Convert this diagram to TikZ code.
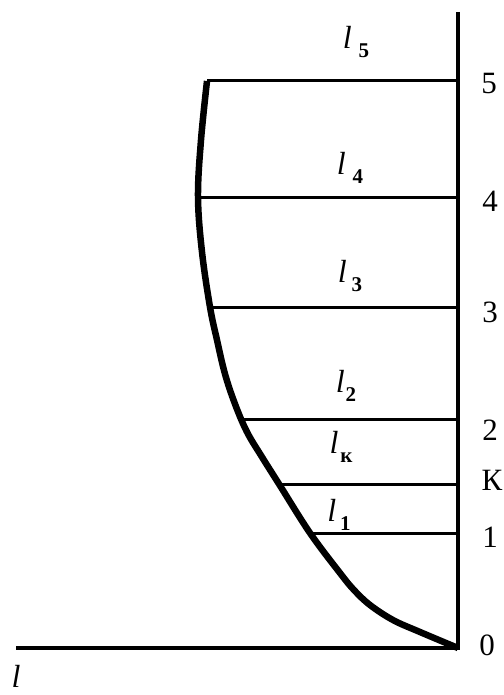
\documentclass[tikz,border=0pt]{standalone}
\usepackage{fontspec}
\setmainfont{Liberation Serif}
\begin{document}
\begin{tikzpicture}[x=1pt,y=-1pt,
  axis/.style={line width=4.5pt},
  level/.style={line width=3pt},
  curve/.style={line width=6.5pt,line join=round},
  num/.style={font=\fontsize{31}{31}\selectfont,inner sep=0pt},
  lab/.style={font=\fontsize{32}{32}\selectfont,inner sep=0pt}]
\useasboundingbox (0,0) rectangle (503,695);
\newcommand{\lsub}[2]{\textit{l}\kern#1pt\raisebox{-0.3em}{\fontsize{21}{21}\selectfont\bfseries #2}}
% axes
\coordinate (top) at (458,12);
\coordinate (origin) at (458,648);
\coordinate (left) at (16,648);
\draw[axis] (top) -- (origin) -- (left);
% level lines
\coordinate (a5) at (207,81);  \coordinate (b5) at (458,81);
\coordinate (a4) at (197,197); \coordinate (b4) at (458,197);
\coordinate (a3) at (212,307); \coordinate (b3) at (458,307);
\coordinate (a2) at (243,419); \coordinate (b2) at (458,419);
\coordinate (aK) at (282,484); \coordinate (bK) at (458,484);
\coordinate (a1) at (313,533); \coordinate (b1) at (458,533);
\foreach \i in {5,4,3,2,K,1} \draw[level] (a\i) -- (b\i);
% curve
\draw[curve] plot[smooth,tension=0.6] coordinates {(207,81) (201,140) (198,197) (202,252) (210,307) (217,340) (225,374) (235,404) (247,432) (262,457) (279,484) (310,533) (340,573) (354,590) (370,605) (393,620) (420,632) (458,648)};
% axis numbers
\node[num] (n5) at (489,84) {5};
\node[num] (n4) at (490,201) {4};
\node[num] (n3) at (490,312) {3};
\node[num] (n2) at (490,430) {2};
\node[num] (nK) at (492,480) {К};
\node[num] (n1) at (490,537) {1};
\node[num] (n0) at (487,645) {0};
% segment labels
\node[lab] (l5) at (356,42) {\lsub{7}{5}};
\node[lab] (l4) at (350,168) {\lsub{7}{4}};
\node[lab] (l3) at (350,276) {\lsub{5}{3}};
\node[lab] (l2) at (346,386) {\lsub{1}{2}};
\node[lab] (lK) at (341,447) {\lsub{2}{к}};
\node[lab] (l1) at (339,515) {\lsub{4}{1}};
\node[lab] (ll) at (16,676) {\textit{l}};
\end{tikzpicture}
\end{document}
